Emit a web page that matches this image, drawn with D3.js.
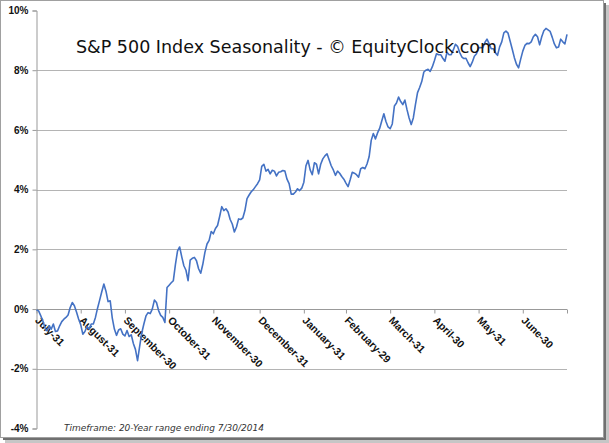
<!DOCTYPE html>
<html>
<head>
<meta charset="utf-8">
<script src="https://cdn.jsdelivr.net/npm/d3@7"></script>
<style>
  html, body { margin: 0; padding: 0; background: #fff; }
  svg { display: block; }
</style>
</head>
<body>
<div id="chart"></div>
<script>
// ---- data ----
const title = "S&P 500 Index Seasonality - \u00A9 EquityClock.com";
const footnote = "Timeframe: 20-Year range ending 7/30/2014";

// month-end tick labels and their trading-day index
const tickLabels = ["July-31","August-31","September-30","October-31","November-30","December-31",
                    "January-31","February-29","March-31","April-30","May-31","June-30"];
const tickDays = [0, 21, 42, 63, 84, 106, 127, 147, 168, 189, 210, 231, 252];

// y axis ticks (percent)
const yTicks = [-4, -2, 0, 2, 4, 6, 8, 10];

// average cumulative return (%) by trading day
const seasonal = [
  -0.03,-0.06,-0.22,-0.39,-0.62,-0.73,-0.56,-0.67,-0.50,-0.75,
  -0.73,-0.56,-0.42,-0.34,-0.28,-0.20,0.05,0.22,0.11,-0.10,
  -0.33,-0.52,-0.84,-0.75,-0.58,-0.67,-0.50,-0.50,-0.28,0.03,
  0.30,0.58,0.84,0.60,0.25,0.28,-0.30,-0.67,-0.88,-0.70,
  -0.66,-0.84,-0.90,-0.72,-0.92,-0.86,-1.15,-1.35,-1.73,-1.25,
  -0.80,-0.50,-0.23,-0.12,-0.15,0.00,0.30,0.22,-0.05,-0.21,
  -0.28,-0.45,
  0.72,0.80,0.88,0.95,1.50,1.95,2.08,1.75,1.45,1.30,
  0.95,1.64,1.70,1.73,1.62,1.35,1.20,1.50,1.90,2.18,
  2.30,2.60,2.52,2.70,2.80,3.10,3.43,3.30,3.36,3.25,
  3.00,2.85,2.58,2.75,3.02,3.00,3.05,3.30,3.70,3.82,
  3.93,4.00,4.10,4.20,4.33,4.78,4.85,4.62,4.68,4.53,
  4.65,4.62,4.46,4.58,4.60,4.64,4.62,4.35,4.20,3.85,
  3.85,3.92,4.03,
  3.97,4.05,4.25,4.80,4.98,4.66,4.50,4.90,4.85,4.53,
  4.85,5.03,5.13,5.20,5.00,4.80,4.66,4.48,4.62,4.55,
  4.44,4.35,4.22,4.10,4.33,4.58,4.55,4.50,4.42,4.70,
  4.74,4.70,4.86,5.10,5.65,5.88,5.70,5.90,6.05,6.30,
  6.54,6.28,6.10,6.04,6.20,6.80,6.90,7.10,6.95,6.85,
  7.00,6.68,6.40,6.18,6.40,6.85,7.25,7.42,7.62,7.94,
  8.00,8.03,7.96,8.11,
  8.32,8.55,8.52,8.52,8.40,8.30,8.60,8.52,8.52,8.68,
  8.87,8.80,8.60,8.45,8.39,8.40,8.25,8.12,8.27,8.47,
  8.55,8.75,8.76,8.75,8.93,9.04,8.89,8.72,8.72,8.58,
  8.50,8.78,8.95,9.25,9.31,9.24,8.97,8.70,8.42,8.20,
  8.08,8.37,8.64,8.83,8.90,8.89,8.95,9.12,9.20,9.12,
  8.85,9.12,9.32,9.40,9.35,9.30,9.10,8.88,8.75,8.78,
  9.04,8.95,8.88,9.20
];

// ---- drawing ----
const W = 609, H = 443;
const svg = d3.select("#chart").append("svg").attr("width", W).attr("height", H);

// frame with drop shadow
svg.append("rect").attr("x", 5).attr("y", 5).attr("width", 604).attr("height", 438).attr("fill", "#c6c6c6");
svg.append("rect").attr("x", 3).attr("y", 3).attr("width", 603).attr("height", 437).attr("fill", "#707070");
svg.append("rect").attr("x", 0.5).attr("y", 0.5).attr("width", 603).attr("height", 437)
   .attr("fill", "#fff").attr("stroke", "#a0a0a0").attr("stroke-width", 1);

const x = d3.scaleLinear().domain([0, tickDays[tickDays.length - 1]]).range([36.5, 567]);
const y = d3.scaleLinear().domain([-4, 10]).range([428.5, 10.5]);

// gridlines
svg.append("g").selectAll("line").data(yTicks.filter(t => t !== 0 && t !== 10 && t !== -4)).join("line")
  .attr("x1", x(0)).attr("x2", x(252))
  .attr("y1", d => Math.round(y(d)) + 0.5).attr("y2", d => Math.round(y(d)) + 0.5)
  .attr("stroke", "#b4b4b4").attr("stroke-width", 1);

// y axis
const yAxis = d3.axisLeft(y).tickValues(yTicks).tickSize(4).tickPadding(4).tickFormat(d => d + "%");
const gy = svg.append("g").attr("transform", "translate(36.5,0)").call(yAxis);
gy.select(".domain").attr("stroke", "#999");
gy.selectAll(".tick line").attr("stroke", "#999");
gy.selectAll(".tick text").attr("font-family", "'Liberation Sans', Arial, sans-serif")
  .attr("font-weight", "bold").attr("font-size", 10).attr("fill", "#111");

// x axis at 0%
const xAxis = d3.axisBottom(x).tickValues(tickDays).tickSize(4).tickFormat("");
const gx = svg.append("g").attr("transform", `translate(0,${Math.round(y(0)) + 0.5})`).call(xAxis);
gx.select(".domain").attr("stroke", "#999").attr("d", `M${x(0)},0H${x(252)}`);
gx.selectAll(".tick line").attr("stroke", "#999");

// rotated month labels
svg.append("g").selectAll("text").data(tickLabels).join("text")
  .attr("transform", (d, i) => `translate(${x(tickDays[i]) - 2},${y(0) + 12}) rotate(45)`)
  .attr("font-family", "'Liberation Sans', Arial, sans-serif")
  .attr("font-weight", "bold").attr("font-size", 10.5).attr("fill", "#111")
  .text(d => d);

// series line
const line = d3.line().x((d, i) => x(i)).y(d => y(d));
svg.append("path").datum(seasonal).attr("d", line)
  .attr("fill", "none").attr("stroke", "#4472c4").attr("stroke-width", 1.6)
  .attr("stroke-linejoin", "round");

// title
svg.append("text").attr("x", 76).attr("y", 53)
  .attr("font-family", "'DejaVu Sans', Verdana, sans-serif").attr("font-size", 17.5).attr("fill", "#111")
  .text(title);

// footnote
svg.append("text").attr("x", 64).attr("y", 431)
  .attr("font-family", "'DejaVu Sans', Verdana, sans-serif").attr("font-style", "italic")
  .attr("font-size", 9).attr("fill", "#333")
  .text(footnote);
</script>
</body>
</html>
